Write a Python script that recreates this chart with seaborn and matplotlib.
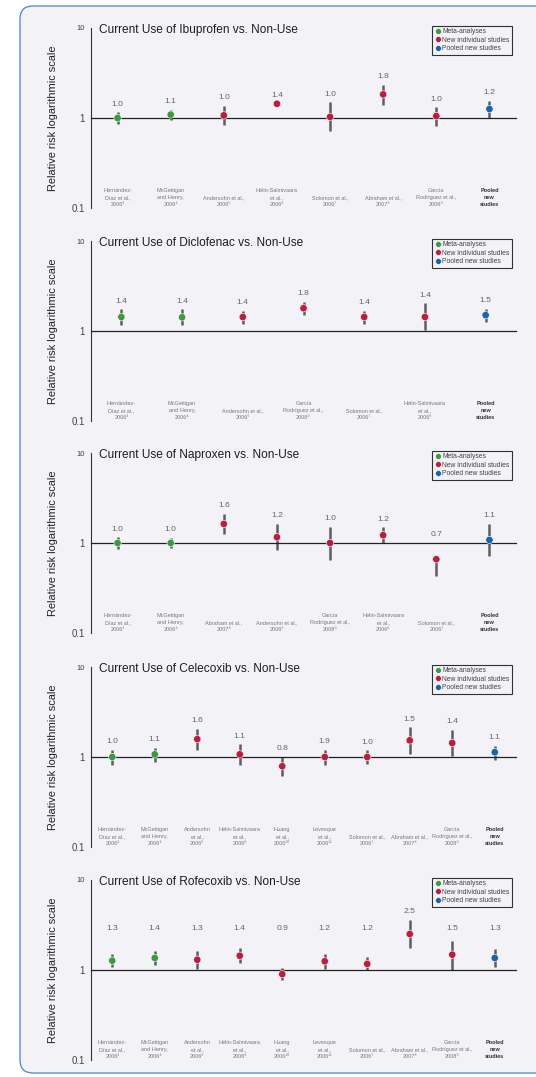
import matplotlib
matplotlib.use("Agg")
import matplotlib.pyplot as plt
import matplotlib.transforms as mtransforms
from matplotlib.patches import FancyBboxPatch
import pandas as pd
import seaborn as sns

GROUP_ORDER = ["Meta-analyses", "New individual studies", "Pooled new studies"]
GROUP_COLORS = ["#3a9a3e", "#c3193d", "#1763b3"]

# --- Ibuprofen ---
IBU_STUDIES = ["Hernández-\nDíaz et al.,\n2006³", "McGettigan\nand Henry,\n2006⁴", "Andersohn et al.,\n2006⁵",
               "Helin-Salmivaara\net al.,\n2006⁶", "Solomon et al.,\n2006⁷", "Abraham et al.,\n2007⁸",
               "García\nRodríguez et al.,\n2008⁹", "Pooled\nnew\nstudies"]
IBU_GROUPS = [0, 0, 1, 1, 1, 1, 1, 2]
IBU_RR = [1.00, 1.09, 1.07, 1.44, 1.03, 1.83, 1.05, 1.26]
IBU_LOW = [0.86, 0.96, 0.84, 1.40, 0.71, 1.41, 0.82, 1.00]
IBU_HIGH = [1.16, 1.24, 1.37, 1.46, 1.49, 2.34, 1.31, 1.56]
IBU_TEXT = ["1.0", "1.1", "1.0", "1.4", "1.0", "1.8", "1.0", "1.2"]

# --- Diclofenac ---
DIC_STUDIES = ["Hernández-\nDíaz et al.,\n2006³", "McGettigan\nand Henry,\n2006⁴", "Andersohn et al.,\n2006⁵",
               "García\nRodríguez et al.,\n2008⁹", "Solomon et al.,\n2006⁷", "Helin-Salmivaara\net al.,\n2006⁶",
               "Pooled\nnew\nstudies"]
DIC_GROUPS = [0, 0, 1, 1, 1, 1, 2]
DIC_RR = [1.43, 1.42, 1.43, 1.79, 1.43, 1.43, 1.50]
DIC_LOW = [1.17, 1.17, 1.21, 1.51, 1.21, 1.03, 1.27]
DIC_HIGH = [1.74, 1.74, 1.68, 2.12, 1.68, 2.03, 1.76]
DIC_TEXT = ["1.4", "1.4", "1.4", "1.8", "1.4", "1.4", "1.5"]

# --- Naproxen ---
NAP_STUDIES = ["Hernández-\nDíaz et al.,\n2006³", "McGettigan\nand Henry,\n2006⁴", "Abraham et al.,\n2007⁸",
               "Andersohn et al.,\n2006⁵", "García\nRodríguez et al.,\n2008⁹", "Helin-Salmivaara\net al.,\n2006⁶",
               "Solomon et al.,\n2006⁷", "Pooled\nnew\nstudies"]
NAP_GROUPS = [0, 0, 1, 1, 1, 1, 1, 2]
NAP_RR = [1.00, 1.00, 1.63, 1.16, 1.00, 1.22, 0.66, 1.08]
NAP_LOW = [0.86, 0.87, 1.26, 0.84, 0.65, 1.00, 0.43, 0.71]
NAP_HIGH = [1.16, 1.14, 2.10, 1.63, 1.52, 1.49, 0.67, 1.63]
NAP_TEXT = ["1.0", "1.0", "1.6", "1.2", "1.0", "1.2", "0.7", "1.1"]

# --- Celecoxib ---
CEL_STUDIES = ["Hernández-\nDíaz et al.,\n2006³", "McGettigan\nand Henry,\n2006⁴", "Andersohn\net al.,\n2006⁵",
               "Helin-Salmivaara\net al.,\n2006⁶", "Huang\net al.,\n2006¹⁰", "Levesque\net al.,\n2006¹¹",
               "Solomon et al.,\n2006⁷", "Abraham et al.,\n2007⁸", "García\nRodríguez et al.,\n2008⁹",
               "Pooled\nnew\nstudies"]
CEL_GROUPS = [0, 0, 1, 1, 1, 1, 1, 1, 1, 2]
CEL_RR = [1.00, 1.07, 1.58, 1.07, 0.79, 1.00, 1.00, 1.53, 1.43, 1.13]
CEL_LOW = [0.82, 0.89, 1.21, 0.82, 0.62, 0.82, 0.84, 1.09, 1.03, 0.93]
CEL_HIGH = [1.21, 1.26, 2.06, 1.39, 1.00, 1.21, 1.19, 2.14, 2.01, 1.34]
CEL_TEXT = ["1.0", "1.1", "1.6", "1.1", "0.8", "1.9", "1.0", "1.5", "1.4", "1.1"]

# --- Rofecoxib ---
ROF_STUDIES = CEL_STUDIES
ROF_GROUPS = [0, 0, 1, 1, 1, 1, 1, 1, 1, 2]
ROF_RR = [1.27, 1.36, 1.30, 1.44, 0.90, 1.25, 1.17, 2.51, 1.48, 1.36]
ROF_LOW = [1.07, 1.14, 1.03, 1.19, 0.77, 1.03, 1.00, 1.76, 1.00, 1.09]
ROF_HIGH = [1.51, 1.61, 1.64, 1.76, 1.04, 1.51, 1.38, 3.59, 2.12, 1.71]
ROF_TEXT = ["1.3", "1.4", "1.3", "1.4", "0.9", "1.2", "1.2", "2.5", "1.5", "1.3"]

PANELS = [
    ("Ibuprofen", IBU_STUDIES, IBU_GROUPS, IBU_RR, IBU_LOW, IBU_HIGH, IBU_TEXT),
    ("Diclofenac", DIC_STUDIES, DIC_GROUPS, DIC_RR, DIC_LOW, DIC_HIGH, DIC_TEXT),
    ("Naproxen", NAP_STUDIES, NAP_GROUPS, NAP_RR, NAP_LOW, NAP_HIGH, NAP_TEXT),
    ("Celecoxib", CEL_STUDIES, CEL_GROUPS, CEL_RR, CEL_LOW, CEL_HIGH, CEL_TEXT),
    ("Rofecoxib", ROF_STUDIES, ROF_GROUPS, ROF_RR, ROF_LOW, ROF_HIGH, ROF_TEXT),
]

sns.set_style("white")
plt.rcParams["font.family"] = ["Liberation Sans Narrow", "Liberation Sans", "DejaVu Sans"]

W, H = 536, 1077
fig = plt.figure(figsize=(W / 100, H / 100), dpi=100)
fig.patch.set_facecolor("white")

# rounded background panel, kept behind all axes
box = FancyBboxPatch((20, H - 1073), 600, 1067, boxstyle="round,pad=0,rounding_size=13",
                     transform=mtransforms.IdentityTransform(), facecolor="#f2f2f7",
                     edgecolor="#4f84c4", linewidth=0.9, zorder=-10)
fig.patches.append(box)

panel_tops = [28, 241, 453, 667, 880]
label_floor = {"Rofecoxib": 2.33}
pal = dict(zip(GROUP_ORDER, GROUP_COLORS))

for (drug, studies, groups, rr, low, high, text), top in zip(PANELS, panel_tops):
    ax = fig.add_axes([91 / W, 1 - (top + 180) / H, 425 / W, 180 / H])
    ax.set_facecolor("none")
    ax.set_zorder(1)
    df = pd.DataFrame({"pos": range(len(studies)), "rr": rr, "low": low, "high": high,
                       "group": [GROUP_ORDER[g] for g in groups]})

    ax.vlines(df["pos"], df["low"], df["high"], color="#5e5e5e", lw=1.8, zorder=2)
    sns.scatterplot(data=df, x="pos", y="rr", hue="group", hue_order=GROUP_ORDER, palette=pal,
                    s=28, edgecolor="white", linewidth=0.4, zorder=3, ax=ax)
    ax.set_yscale("log")
    ax.set_ylim(0.1, 10)
    ax.set_xlim(-0.5, len(studies) - 0.5)

    floor = label_floor.get(drug, 1.0)
    for i, row in df.iterrows():
        ax.annotate(text[i], (row["pos"], max(row["high"], floor)), xytext=(0, 5.8),
                    textcoords="offset points", ha="center", va="center", fontsize=6.1, color="#666666")
        last = i == len(df) - 1
        ax.text(row["pos"], 0.005, studies[i], transform=ax.get_xaxis_transform(), ha="center",
                va="bottom", fontsize=4.0, linespacing=1.5,
                color="#333333" if last else "#7a7a7a", fontweight="bold" if last else "normal")

    # axes styling
    for side in ["top", "right"]:
        ax.spines[side].set_visible(False)
    ax.spines["bottom"].set_position(("data", 1))
    ax.spines["bottom"].set_color("#222222")
    ax.spines["bottom"].set_linewidth(0.9)
    ax.spines["left"].set_color("#333333")
    ax.spines["left"].set_linewidth(0.8)
    ax.set_xticks([p + 0.5 for p in range(len(studies))])
    ax.set_xticklabels([])
    ax.tick_params(axis="x", direction="inout", length=5, width=0.8, color="#222222")
    ax.set_yticks([0.1, 1, 10])
    ax.set_yticklabels(["0.1", "1", "10"])
    ax.yaxis.set_minor_locator(matplotlib.ticker.NullLocator())
    ax.tick_params(axis="y", direction="out", length=3, width=0.8, color="#333333",
                   labelsize=7, labelcolor="#444444", pad=1.5)
    ax.get_yticklabels()[2].set_fontsize(5.4)
    ax.set_xlabel("")
    ax.set_ylabel("Relative risk logarithmic scale", fontsize=7.9, color="#222222",
                  family=["Liberation Sans", "DejaVu Sans"])
    ax.yaxis.set_label_coords(-0.078, 0.5)

    ax.text(0.019, 0.99, f"Current Use of {drug} vs. Non-Use", transform=ax.transAxes,
            ha="left", va="center", fontsize=8.6, color="#1e1e1e")

    sns.move_legend(ax, "upper right", bbox_to_anchor=(0.99, 1.012), title=None, frameon=True,
                    fancybox=False, fontsize=4.9, markerscale=0.8, handletextpad=0.1,
                    borderpad=0.35, labelspacing=0.22, handlelength=1.0, borderaxespad=0)
    leg = ax.get_legend()
    leg.get_frame().set_edgecolor("black")
    leg.get_frame().set_linewidth(0.8)
    leg.get_frame().set_facecolor("#f2f2f7")
    for t in leg.get_texts():
        t.set_color("#444444")

fig.savefig("out.png", dpi=100)
